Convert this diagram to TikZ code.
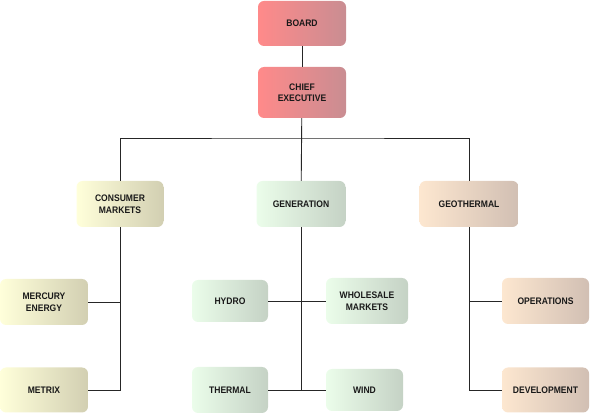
\documentclass[tikz,border=0pt]{standalone}
\usepackage{fontspec}
\setmainfont[FakeStretch=0.9]{Liberation Sans}
\usetikzlibrary{positioning}

\definecolor{redL}{HTML}{FF8A8A}
\definecolor{redR}{HTML}{C98D92}
\definecolor{yelL}{HTML}{FFFFDA}
\definecolor{yelR}{HTML}{D2CFB2}
\definecolor{grnL}{HTML}{EBFDEA}
\definecolor{grnR}{HTML}{C5D2C5}
\definecolor{pchL}{HTML}{FDE7D0}
\definecolor{pchR}{HTML}{D1BFB3}

\begin{document}
\begin{tikzpicture}[x=1pt,y=-1pt,
  unit/.style={rounded corners=6pt, align=center, inner sep=0pt,
    font=\fontsize{9.5}{11.5}\selectfont\bfseries, text=black!90},
  redbox/.style={unit, left color=redL, right color=redR},
  yelbox/.style={unit, left color=yelL, right color=yelR},
  grnbox/.style={unit, left color=grnL, right color=grnR},
  pchbox/.style={unit, left color=pchL, right color=pchR},
  link/.style={draw=black!85, line width=0.9pt}]
\useasboundingbox (0,0) rectangle (590,414);
\node[redbox, minimum width=88pt, minimum height=45pt] (board) at (302,23.5) {BOARD};
\node[redbox, minimum width=88pt, minimum height=51pt] (chief) at (302,92.5) {CHIEF\\EXECUTIVE};
\node[yelbox, minimum width=87pt, minimum height=46pt] (consumer) at (120,204) {CONSUMER\\MARKETS};
\node[grnbox, minimum width=89pt, minimum height=46pt] (generation) at (301,204) {GENERATION};
\node[pchbox, minimum width=99pt, minimum height=46pt] (geothermal) at (469,204) {GEOTHERMAL};
\node[yelbox, minimum width=88pt, minimum height=46pt] (mercury) at (44,302) {MERCURY\\ENERGY};
\node[yelbox, minimum width=88pt, minimum height=45pt] (metrix) at (44,390) {METRIX};
\node[grnbox, minimum width=76pt, minimum height=42pt] (hydro) at (230,301) {HYDRO};
\node[grnbox, minimum width=82pt, minimum height=46pt] (wholesale) at (367,301) {WHOLESALE\\MARKETS};
\node[grnbox, minimum width=76pt, minimum height=46pt] (thermal) at (230,390) {THERMAL};
\node[grnbox, minimum width=77pt, minimum height=42pt] (wind) at (364.5,390) {WIND};
\node[pchbox, minimum width=87pt, minimum height=46pt] (operations) at (545.5,301) {OPERATIONS};
\node[pchbox, minimum width=87pt, minimum height=45pt] (development) at (545.5,390) {DEVELOPMENT};
\coordinate (top) at (301,138);
\path[link] (board) -- (chief);
\path[link] (chief) -- (generation);
\path[link] (consumer.north) |- (top) -| (geothermal.north);
\path[link] (consumer.south) |- (metrix.east);
\path[link] (mercury.east) -- (mercury.east -| consumer);
\path[link] (generation.south) -- (generation |- thermal);
\path[link] (hydro.east) -- (wholesale.west);
\path[link] (thermal.east) -- (wind.west);
\path[link] (geothermal.south) |- (development.west);
\path[link] (operations.west) -- (operations.west -| geothermal);
\end{tikzpicture}
\end{document}
